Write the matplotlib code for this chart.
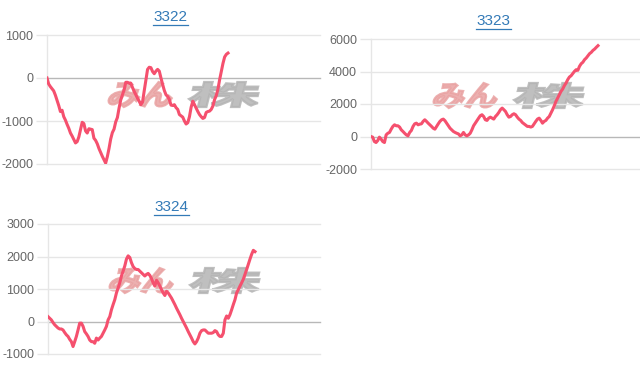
import matplotlib
matplotlib.use("Agg")
import matplotlib.pyplot as plt
import numpy as np
from matplotlib.font_manager import FontProperties
from matplotlib.patches import PathPatch
from matplotlib.textpath import TextPath
from matplotlib.transforms import Affine2D

# cumulative values, one per step
titles = ["3322", "3323", "3324"]

vals_3322 = [0, -140, -200, -250, -300, -400, -520, -640, -780, -750, -900,
             -980, -1080, -1170, -1280, -1350, -1430, -1510, -1480, -1370,
             -1200, -1030, -1060, -1230, -1280, -1180, -1190, -1200, -1400,
             -1450, -1530, -1640, -1730, -1820, -1900, -1980, -1830, -1640,
             -1420, -1270, -1190, -1020, -920, -700, -510, -390, -280, -100,
             -100, -120, -120, -220, -310, -390, -470, -540, -620, -560, -300,
             -50, 200, 250, 240, 150, 100, 160, 200, 160, 0, -150, -290, -390,
             -430, -500, -630, -640, -620, -690, -730, -850, -880, -910, -1000,
             -1070, -1040, -900, -680, -540, -620, -700, -780, -850, -900, -940,
             -920, -800, -780, -770, -730, -650, -500, -410, -260, -40, 150, 340,
             490, 550, 580]

vals_3323 = [0, -40, -310, -370, -250, -40, -160, -310, -370, 100, 200, 250,
             450, 620, 720, 660, 660, 580, 410, 310, 200, 100, 40, 250, 370, 620,
             780, 820, 720, 760, 780, 930, 1030, 930, 820, 720, 620, 510, 450,
             620, 780, 930, 1030, 1070, 970, 820, 660, 510, 410, 310, 250, 200,
             160, 40, 100, 250, 100, 40, 100, 200, 410, 660, 820, 990, 1130, 1280,
             1340, 1230, 1030, 990, 1130, 1190, 1130, 1070, 1230, 1340, 1480,
             1650, 1750, 1650, 1540, 1340, 1190, 1230, 1340, 1400, 1340, 1190,
             1070, 990, 860, 780, 700, 620, 620, 580, 620, 780, 930, 1070, 1130,
             990, 820, 930, 990, 1130, 1230, 1440, 1650, 1890, 2160, 2360, 2570,
             2780, 2920, 3130, 3290, 3500, 3660, 3740, 3870, 4010, 4110, 4070,
             4320, 4480, 4570, 4730, 4830, 4970, 5100, 5180, 5300, 5380, 5490,
             5590]

vals_3324 = [150, 100, 50, -30, -100, -150, -200, -230, -230, -260, -340, -410,
             -460, -550, -620, -770, -620, -460, -260, -50, -50, -150, -310,
             -380, -460, -570, -620, -620, -670, -510, -570, -510, -460, -360,
             -260, -150, 50, 150, 360, 520, 670, 880, 1030, 1190, 1400, 1550,
             1710, 1920, 2020, 1970, 1810, 1690, 1630, 1600, 1600, 1550, 1500,
             1450, 1400, 1450, 1480, 1420, 1320, 1190, 1090, 1270, 1190, 1090,
             980, 880, 800, 930, 880, 800, 720, 620, 520, 410, 310, 210, 100, 0,
             -100, -200, -310, -410, -510, -620, -690, -620, -510, -360, -280,
             -260, -260, -310, -360, -360, -360, -340, -280, -310, -410, -460,
             -460, -360, 50, 170, 100, 210, 360, 520, 670, 880, 980, 1090, 1190,
             1300, 1450, 1600, 1760, 1920, 2070, 2190, 2150]

series = [vals_3322, vals_3323, vals_3324]
y_limits = [(-2000, 1000), (-2000, 6000), (-1000, 3000)]
y_steps = [1000, 2000, 1000]

W, H = 640, 372
LINE = "#f5506e"
GRID = "#e6e6e6"
ZERO = "#b8b8b8"

# axes boxes in pixels: left, top, right, bottom
boxes = [(47, 35, 320, 164), (371, 39, 640, 169), (48, 224, 320, 354)]
# where the last point of each series sits (pixel x)
data_end = [228, 598, 255]
title_pos = [(170, 17), (493, 21), (171, 207)]
logo_pos = [(107, 107), (432, 108), (108, 293)]

plt.rcParams['font.family'] = ['Liberation Sans', 'DejaVu Sans']

fig = plt.figure(figsize=(W / 100, H / 100), dpi=100)


def draw_logo(fig, x0, bottom):
    fp = FontProperties(family='Noto Sans CJK JP', weight='bold')
    parts = [("みん", "#e9a2a2", 0, 68), ("株", "#b4b4b4", 80, 76)]
    for txt, col, dx, w in parts:
        path = TextPath((0, 0), txt, size=1, prop=fp)
        ext = path.get_extents()
        h = 25
        tr = (Affine2D().translate(-ext.x0, -ext.y0)
              .scale(w / ext.width * 0.92, h / ext.height)
              .skew_deg(14, 0)
              .translate(x0 + dx, H - bottom)
              .scale(1 / W, 1 / H) + fig.transFigure)
        patch = PathPatch(path, transform=tr, facecolor=col, edgecolor=col,
                          lw=1.6, alpha=0.85, zorder=-5)
        fig.add_artist(patch)


for i, vals in enumerate(series):
    l, t, r, b = boxes[i]
    ax = fig.add_axes([l / W, 1 - b / H, (r - l) / W, (b - t) / H])
    ax.set_facecolor('none')
    n = len(vals)
    x = np.arange(n)
    xmax = (n - 1) * (r - l) / (data_end[i] - l)
    ax.plot(x, vals, color=LINE, lw=2.2, solid_joinstyle='round', zorder=3)
    ax.set_xlim(0, xmax)
    lo, hi = y_limits[i]
    ax.set_ylim(lo, hi)
    ticks = np.arange(lo, hi + 1, y_steps[i])
    ax.set_yticks(ticks)
    ax.set_yticklabels([str(int(v)) for v in ticks])
    ax.set_xticks([])
    for v in ticks:
        ax.axhline(v, color=ZERO if v == 0 else GRID, lw=1, zorder=1,
                   clip_on=False)
    for s in ['top', 'right', 'bottom']:
        ax.spines[s].set_visible(False)
    ax.spines['left'].set_color(GRID)
    ax.spines['left'].set_linewidth(1)
    ax.tick_params(axis='y', length=8, width=1, color=GRID, pad=2,
                   labelsize=9, labelcolor='#666666')
    tx, ty = title_pos[i]
    fig.text(tx / W, 1 - ty / H, titles[i], ha='center', va='center',
             fontsize=11, color='#337ab7')
    # underline for the link look
    fig.add_artist(plt.Line2D([(tx - 17.5) / W, (tx + 17.5) / W],
                              [1 - (ty + 7.5) / H, 1 - (ty + 7.5) / H],
                              color='#337ab7', lw=0.9))
    draw_logo(fig, *logo_pos[i])

fig.savefig("out.png", dpi=100)
